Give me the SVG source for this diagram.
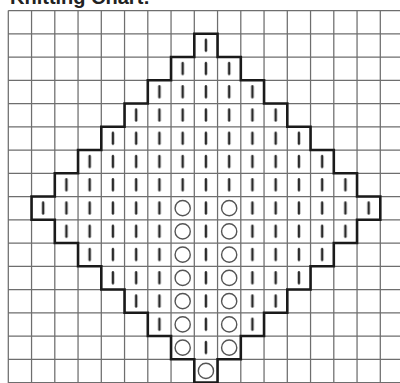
<svg xmlns="http://www.w3.org/2000/svg" xmlns:xlink="http://www.w3.org/1999/xlink" width="400" height="383" viewBox="0 0 400 383">
  <style>
    .title { font-family: "Liberation Sans", Arial, sans-serif; font-weight: bold; font-size: 20px; fill: #222; }
    .grid { fill: none; stroke: #6e6e6e; stroke-width: 1.25; }
    .outline { fill: none; stroke: #1a1a1a; stroke-width: 2.6; stroke-linejoin: miter; }
    .bar { stroke: #2a2a2a; stroke-width: 2.5; stroke-linecap: round; }
    .purl { fill: none; stroke: #555; stroke-width: 1.4; }
  </style>
  <defs>
    <pattern id="bars" patternUnits="userSpaceOnUse" x="8.3" y="10.5" width="23.25" height="23.25">
      <line class="bar" x1="11.625" y1="6.2" x2="11.625" y2="17"/>
    </pattern>
    <circle id="o" r="7.6" class="purl"/>
  </defs>
  <rect width="400" height="383" fill="#ffffff"/>
  <text class="title" x="10" y="3.5">Knitting Chart:</text>
  <g id="grid">
    <path class="grid" d="M8.3 10.5V383M31.55 10.5V383M54.8 10.5V383M78.05 10.5V383M101.3 10.5V383M124.55 10.5V383M147.8 10.5V383M171.05 10.5V383M194.3 10.5V383M217.55 10.5V383M240.8 10.5V383M264.05 10.5V383M287.3 10.5V383M310.55 10.5V383M333.8 10.5V383M357.05 10.5V383M380.3 10.5V383
      M8.3 10.5H400M8.3 33.75H400M8.3 57H400M8.3 80.25H400M8.3 103.5H400M8.3 126.75H400M8.3 150H400M8.3 173.25H400M8.3 196.5H400M8.3 219.75H400M8.3 243H400M8.3 266.25H400M8.3 289.5H400M8.3 312.75H400M8.3 336H400M8.3 359.25H400M8.3 382.5H400"/>
  </g>
  <g id="knit-stitches">
    <path fill="url(#bars)" fill-rule="evenodd" d="M194.3 33.75H217.55V57H240.8V80.25H264.05V103.5H287.3V126.75H310.55V150H333.8V173.25H357.05V196.5H380.3V219.75H357.05V243H333.8V266.25H310.55V289.5H287.3V312.75H264.05V336H240.8V359.25H217.55V382.5H194.3V359.25H171.05V336H147.8V312.75H124.55V289.5H101.3V266.25H78.05V243H54.8V219.75H31.55V196.5H54.8V173.25H78.05V150H101.3V126.75H124.55V103.5H147.8V80.25H171.05V57H194.3Z
      M171.05 196.5H194.3V359.25H171.05Z M217.55 196.5H240.8V359.25H217.55Z M194.3 359.25H217.55V382.5H194.3Z"/>
  </g>
  <g id="purl-stitches">
    <use xlink:href="#o" x="182.675" y="208.125"/>
    <use xlink:href="#o" x="182.675" y="231.375"/>
    <use xlink:href="#o" x="182.675" y="254.625"/>
    <use xlink:href="#o" x="182.675" y="277.875"/>
    <use xlink:href="#o" x="182.675" y="301.125"/>
    <use xlink:href="#o" x="182.675" y="324.375"/>
    <use xlink:href="#o" x="182.675" y="347.625"/>
    <use xlink:href="#o" x="229.175" y="208.125"/>
    <use xlink:href="#o" x="229.175" y="231.375"/>
    <use xlink:href="#o" x="229.175" y="254.625"/>
    <use xlink:href="#o" x="229.175" y="277.875"/>
    <use xlink:href="#o" x="229.175" y="301.125"/>
    <use xlink:href="#o" x="229.175" y="324.375"/>
    <use xlink:href="#o" x="229.175" y="347.625"/>
    <use xlink:href="#o" x="205.925" y="370.875"/>
  </g>
  <g id="diamond-outline">
    <path class="outline" d="M194.3 33.75H217.55V57H240.8V80.25H264.05V103.5H287.3V126.75H310.55V150H333.8V173.25H357.05V196.5H380.3V219.75H357.05V243H333.8V266.25H310.55V289.5H287.3V312.75H264.05V336H240.8V359.25H217.55V382.5H194.3V359.25H171.05V336H147.8V312.75H124.55V289.5H101.3V266.25H78.05V243H54.8V219.75H31.55V196.5H54.8V173.25H78.05V150H101.3V126.75H124.55V103.5H147.8V80.25H171.05V57H194.3Z"/>
  </g>
</svg>
